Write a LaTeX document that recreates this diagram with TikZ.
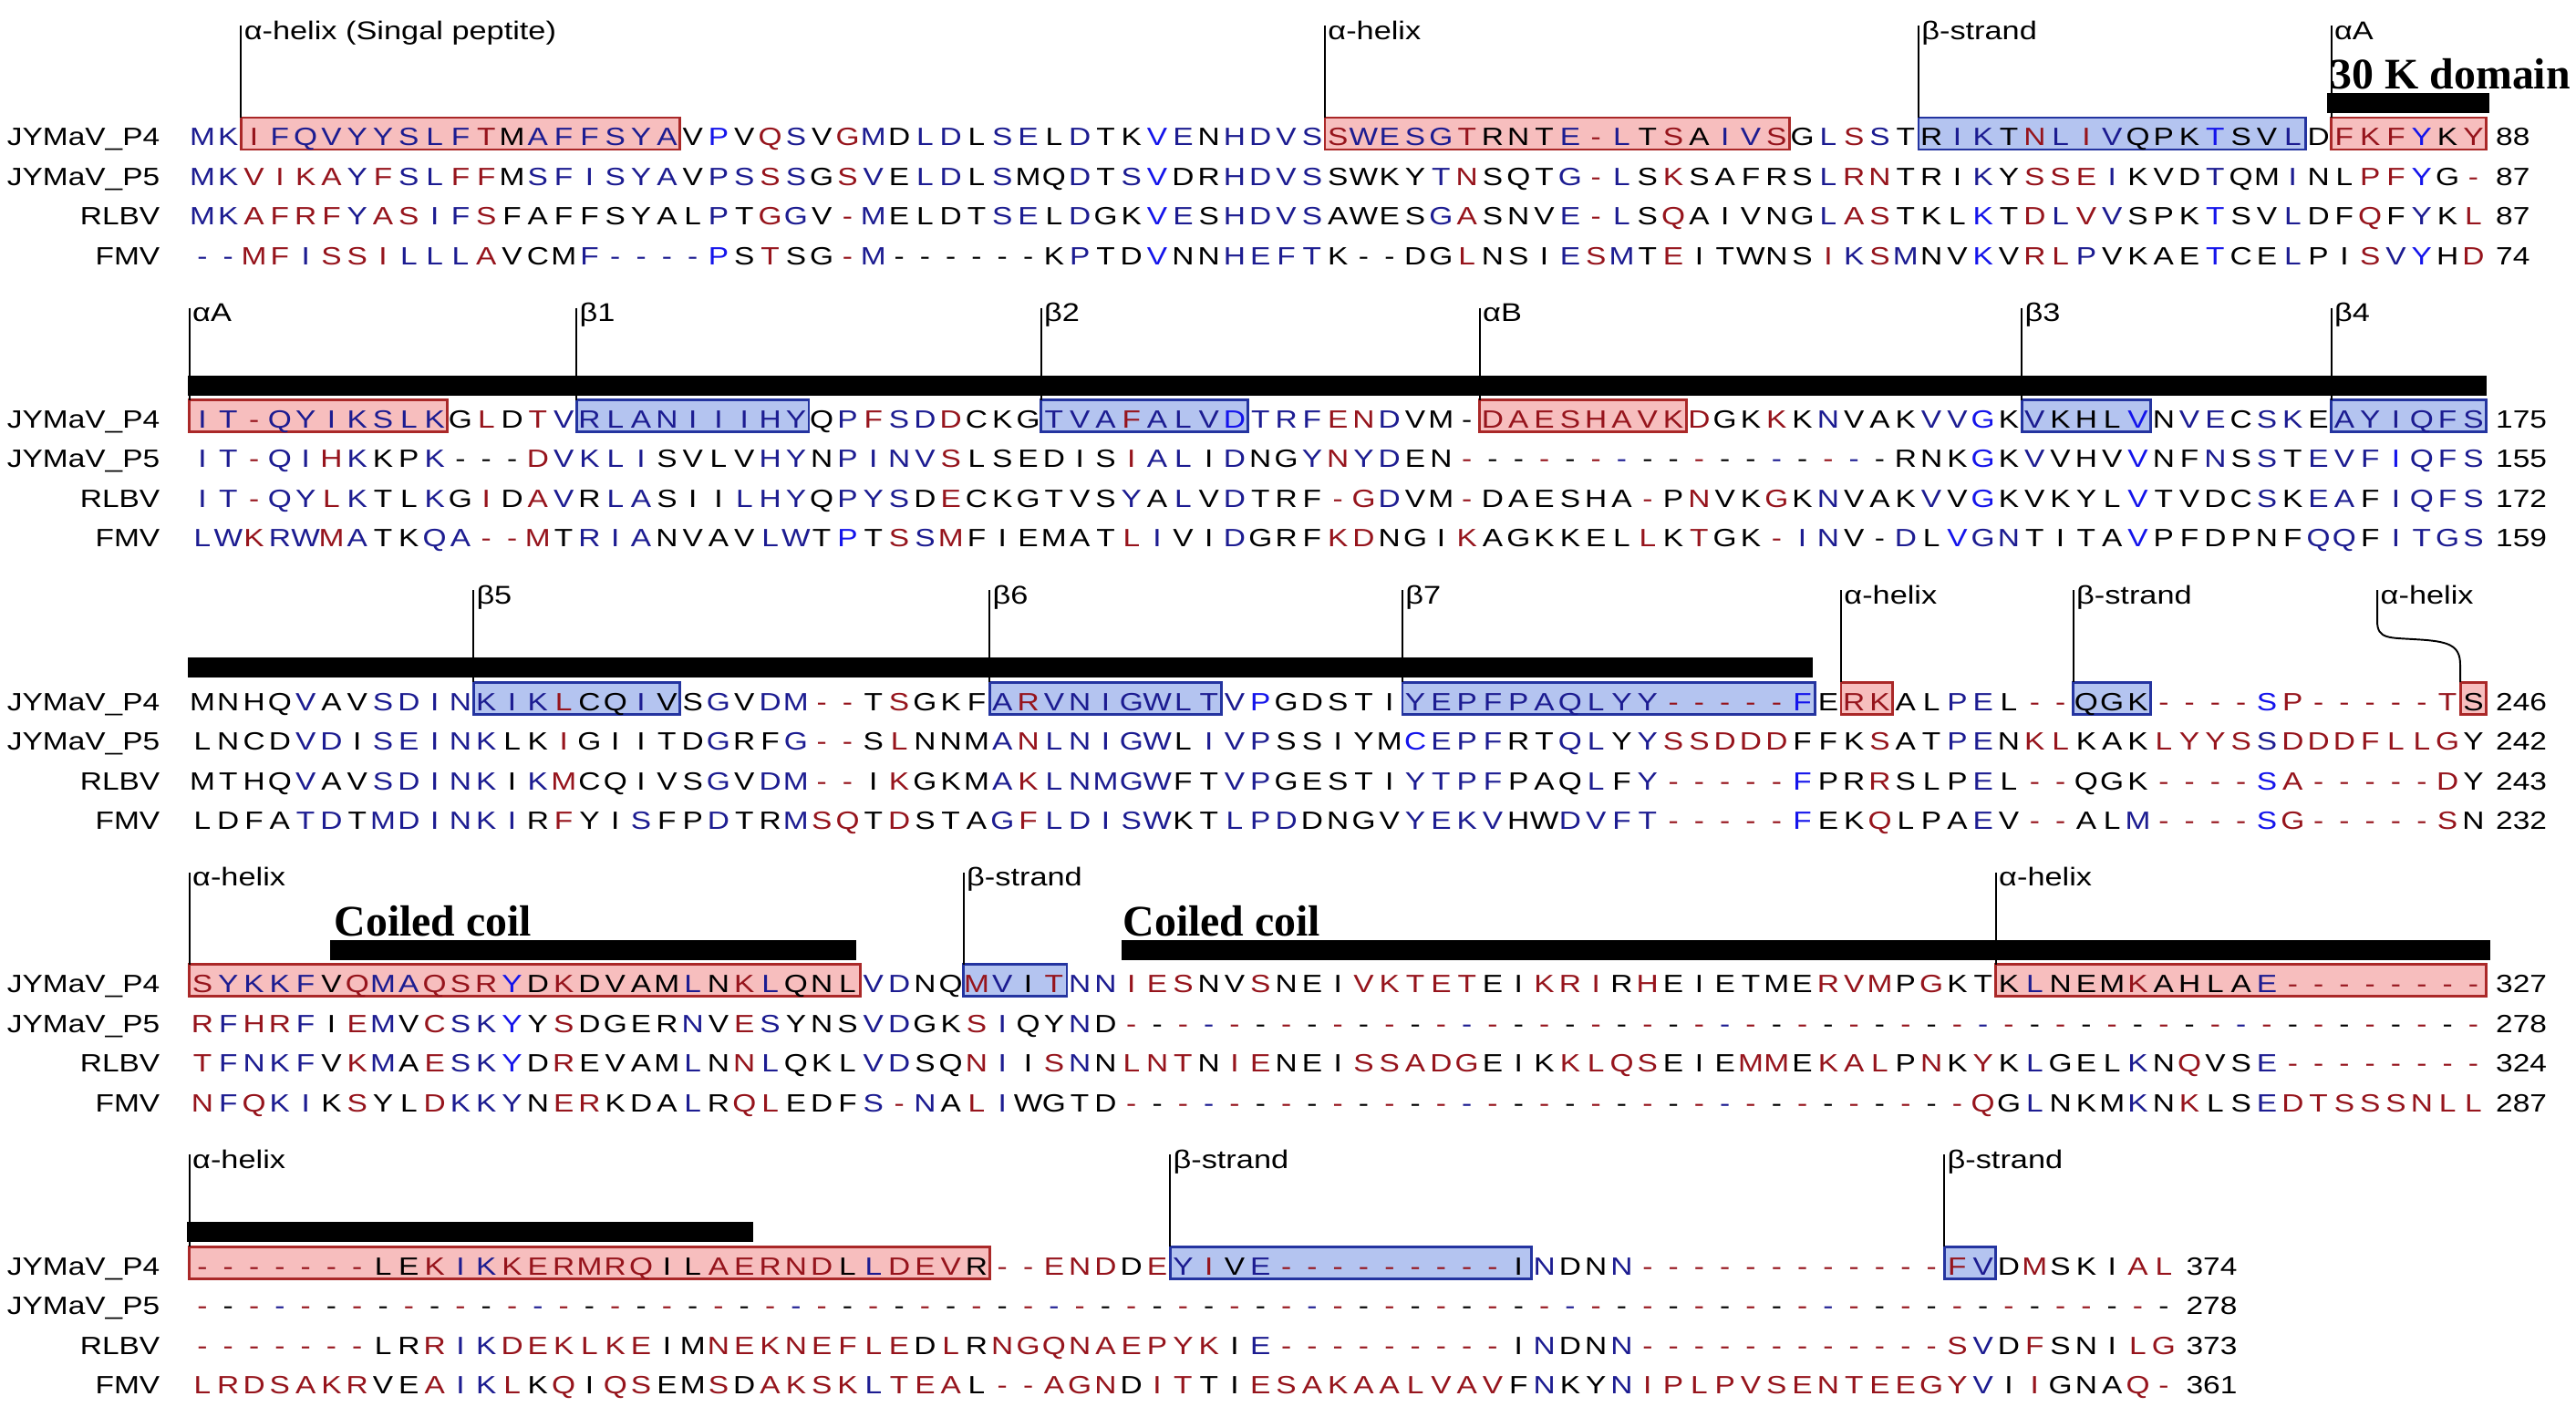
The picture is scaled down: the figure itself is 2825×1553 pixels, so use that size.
\documentclass[tikz,border=0pt]{standalone}
\usepackage{fontspec}
\setmainfont{Liberation Sans}
\newfontfamily\seqfont{Liberation Sans}[FakeStretch=1.22]
\newfontfamily\domfont{Liberation Serif}
\definecolor{sqred}{RGB}{150,20,28}
\definecolor{sqblue}{RGB}{28,28,145}
\definecolor{sqbright}{RGB}{20,20,235}
\definecolor{hxfill}{RGB}{247,190,190}
\definecolor{hxdraw}{RGB}{170,40,40}
\definecolor{stfill}{RGB}{180,196,240}
\definecolor{stdraw}{RGB}{36,52,160}
\tikzset{
  res/.style={font=\seqfont\fontsize{7.8}{9}\selectfont, inner sep=0pt, anchor=base},
  lab/.style={font=\seqfont\fontsize{7.8}{9}\selectfont, inner sep=0pt, anchor=base east},
  num/.style={font=\seqfont\fontsize{7.8}{9}\selectfont, inner sep=0pt, anchor=base west},
  ann/.style={font=\seqfont\fontsize{8}{9.5}\selectfont, inner sep=0pt, anchor=base west},
  dom/.style={font=\domfont\bfseries\fontsize{13.6}{16}\selectfont, inner sep=0pt, anchor=base west},
  tick/.style={line width=0.55pt, draw=black},
  helixbox/.style={fill=hxfill, draw=hxdraw, line width=0.8pt},
  strandbox/.style={fill=stfill, draw=stdraw, line width=0.8pt},
  domainbar/.style={fill=black},
}
% dash runs: \dT = 10 gaps, \dF = 3 gaps, \dO = 1 gap
\def\dT{r--r-b-r--r--r--}
\def\dF{r--r-}
\def\dO{-}
\ExplSyntaxOn
\tl_new:N \l__sq_color_tl
\tl_new:N \l__sq_seq_tl
\int_new:N \l__sq_col_int
\cs_new_protected:Npn \__sq_put:nnnn #1#2#3#4 { \node[#1]~(#2)~at~(#3)~{#4}; }
\cs_generate_variant:Nn \__sq_put:nnnn { xxxn , nxxn }
\NewDocumentCommand \seqrow { m m m m m }
  {
    \__sq_put:nxxn {lab} {#1-name} { 176 , \fp_eval:n { #2 + 9.8 } } {#3}
    \tl_set:Nx \l__sq_seq_tl {#4}
    \int_zero:N \l__sq_col_int
    \tl_set:Nn \l__sq_color_tl {black}
    \tl_map_inline:Nn \l__sq_seq_tl
      {
        \str_case:nnF {##1}
          {
            {r} { \tl_set:Nn \l__sq_color_tl {sqred} }
            {b} { \tl_set:Nn \l__sq_color_tl {sqblue} }
            {c} { \tl_set:Nn \l__sq_color_tl {sqbright} }
          }
          {
            \int_incr:N \l__sq_col_int
            \__sq_put:xxxn { res , text = \l__sq_color_tl }
              { #1 - \int_use:N \l__sq_col_int }
              { \fp_eval:n { 222 + 28.3 * ( \int_use:N \l__sq_col_int - 1 ) } , \fp_eval:n { #2 + 9.8 } }
              {##1}
            \tl_set:Nn \l__sq_color_tl {black}
          }
      }
    \__sq_put:nxxn {num} {#1-num}
      { \fp_eval:n { 222 + 28.3 * ( \int_use:N \l__sq_col_int - 1 ) + 24 } , \fp_eval:n { #2 + 9.8 } }
      {#5}
  }
\ExplSyntaxOff
\newcommand\sqbox[4]{% style, yP4, from col, to col
  \path[#1] ({222+28.3*(#3-1)-14.15},{#2-21}) rectangle ({222+28.3*(#4-1)+14.15},{#2+14});}
\newcommand\annot[4]{% name, yP4, col, text
  \coordinate (#1-top) at ({222+28.3*(#3-1)-14.15},{#2-122});
  \coordinate (#1-foot) at ({222+28.3*(#3-1)-14.15},{#2-21});
  \draw[tick] (#1-top) -- (#1-foot);
  \node[ann] (#1) at ({222+28.3*(#3-1)-11.5},{#2-107}) {#4};}
\newcommand\dombar[3]{\fill[domainbar] (#2,{#1-48}) rectangle (#3,{#1-26});}
\begin{document}
\begin{tikzpicture}[x=0.01cm,y=-0.01cm]
\useasboundingbox (0,0) rectangle (2825,1553);
\fill[white] (0,0) rectangle (2825,1553);
% ---------------- block 1 ----------------
\def\Y{150}
\sqbox{helixbox}{\Y}{3}{19}
\sqbox{helixbox}{\Y}{45}{62}
\sqbox{strandbox}{\Y}{68}{82}
\sqbox{helixbox}{\Y}{84}{89}
\annot{a11}{\Y}{3}{α-helix (Singal peptite)}
\annot{a12}{\Y}{45}{α-helix}
\annot{a13}{\Y}{68}{β-strand}
\annot{a14}{\Y}{84}{αA}
\dombar{\Y}{2552}{2730}
\node[dom] (dom30k) at (2555,{\Y-53}) {30 K domain};
\seqrow{b1p4}{150}{JYMaV\_P4}{bMbKrIbFbQbVbYbYbSbLbFrTMbAbFbFbSbYbAVcPVrQbSVrGbMDbLbDLbSbELbDTKcVbENbHbDbVbSrSbWbEbSbGrTRNTbEr-bLTrSAbIbVrSGbLrSbSTRbIbKTrNbLrIbVQPKcTSVbLDrFrKrFcYKrY}{88}
\seqrow{b1p5}{193.5}{JYMaV\_P5}{bMbKrVrIrKrAbYrFbSbLrFrFMbSbFbIbSbYbAVbPbSrSbSGrSbVEbLbDLbSMQbDTbScVDRbHbDbVbSSWKYbTrNSQTbGr-bLSrKSAFRSbLrRrNTRIbKYrSrSrEbIKVDbTQMbINLrPrFcYGr-}{87}
\seqrow{b1rl}{237}{RLBV}{bMbKrArFrRrFbYrArSbIbFrSFAFFSYALbPTrGbGVr-bMELDTbSbELbDGKcVbESbHbDbVbSAWESbGrASNVbEr-bLSrQAIVNGbLrArSTKLcKTrDbLrVbVSPKcTSVbLDFrQFbYKrL}{87}
\seqrow{b1fm}{280.5}{FMV}{b-b-rMrFbIrSrSrIbLbLbLrAVCMbFb-b-b-b-cPSrTSGr-bM------KbPTDcVNNbHbEbFbTK--DGrLNSIbErSbMTrEITWNSrIbKrSbMNVcKVrRrLbPVKAEcTCEbLPIrSbVcYHrD}{74}
% ---------------- block 2 ----------------
\def\Y{459.6}
\sqbox{helixbox}{\Y}{1}{10}
\sqbox{strandbox}{\Y}{16}{24}
\sqbox{strandbox}{\Y}{34}{41}
\sqbox{helixbox}{\Y}{51}{58}
\sqbox{strandbox}{\Y}{72}{76}
\sqbox{strandbox}{\Y}{84}{89}
\dombar{\Y}{206}{2727}
\annot{a21}{\Y}{1}{αA}
\annot{a22}{\Y}{16}{β1}
\annot{a23}{\Y}{34}{β2}
\annot{a24}{\Y}{51}{αB}
\annot{a25}{\Y}{72}{β3}
\annot{a26}{\Y}{84}{β4}
\seqrow{b2p4}{459.6}{JYMaV\_P4}{bIbTr-bQbYbIbKbSbLbKGrLDrTbVbRbLbAbNbIbIbIbHbYQbPrFbSbDrDCKGbTbVbArFbAbLbVcDbTbRbFrErNbDVM-rDrArErSrHrArVrKrDGKrKKbNVAKbVbVcGKbVKHLcVNbVbECbSbKEbAbYbIbQbFbS}{175}
\seqrow{b2p5}{503.1}{JYMaV\_P5}{bIbTr-bQbIrHbKKPbK---rDbVbKbLbISVLVbHbYNbPbIbNbVrSLSEDISrIbAbLIbDNGbYrNbYbDENr---r--r-b---r---b--r-b--RNKcGKbVVHVcVNFbNSbSTbEbVbFcIbQbFbS}{155}
\seqrow{b2rl}{546.6}{RLBV}{bIbTr-bQbYrLbKTLbKGrIDrAbVRbLbASIIbLbHbYQbPbYbSDrECKGTVSbYAbLVbDTRFr-rGbDVMr-DAESHAr-PrNVKrGKbNVAKbVVcGKVKYLcVTVDCbSKbEbAFbIbQbFbS}{172}
\seqrow{b2fm}{590.1}{FMV}{bLbWrKbRbWrMbATKbQbAr-r-rMTbRbIbANVAVbLbWTcPTrSbSrMFIEMATrLbIVIbDGRFrKrDNGIrKAGKKELrLKrTGKr-bIbNV-bDLcVbGbNTITAcVPFDPNFbQbQFbIbTbGbS}{159}
% ---------------- block 3 ----------------
\def\Y{769.2}
\sqbox{strandbox}{\Y}{12}{19}
\sqbox{strandbox}{\Y}{32}{40}
\sqbox{strandbox}{\Y}{48}{63}
\sqbox{helixbox}{\Y}{65}{66}
\sqbox{strandbox}{\Y}{74}{76}
\sqbox{helixbox}{\Y}{89}{89}
\dombar{\Y}{206}{1988}
\annot{a31}{\Y}{12}{β5}
\annot{a32}{\Y}{32}{β6}
\annot{a33}{\Y}{48}{β7}
\annot{a34}{\Y}{65}{α-helix}
\annot{a35}{\Y}{74}{β-strand}
\coordinate (a36-top) at (2607,{\Y-122});
\coordinate (a36-foot) at (2698,{\Y-21});
\node[ann] (a36) at (2610,{\Y-107}) {α-helix};
\draw[tick] (a36-top) -- (2607,{\Y-88}) .. controls (2607,{\Y-68}) and (2620,{\Y-70}) .. (2650,{\Y-68}) .. controls (2685,{\Y-66}) and (2698,{\Y-62}) .. (2698,{\Y-40}) -- (a36-foot);
\seqrow{b3p4}{769.2}{JYMaV\_P4}{MNHQbVAVbSbDbIbNbKbIbKrLCQbIVSbGVbDbMr-r-TrSGKFbArRbVbNbIbGbWbLbTbVcPGDSTIbYbEbPbFbPbAbQbLbYbYr-r-r-r-r-cFErRrKALbPbELr-r-QGKr-r-r-r-cSrPr-r-r-r-r-rTS}{246}
\seqrow{b3p5}{812.7}{JYMaV\_P5}{LNCDbVbDIbSbEbIbNbKLKrIGIITDbGRFbGr-r-SrLNNMbArNbLbNbIbGbWLbIbVbPSSIYMcCbEbPbFRTbQbLYbYrSrSrDrDrDFFKrSATbPbENrKrLKAKrLrYrYrSbSrDrDrDrFrLrLrGY}{242}
\seqrow{b3rl}{856.2}{RLBV}{MTHQbVAVbSbDbIbNbKIbKrMCQIVSbGVbDbMr-r-IrKGKMbArKbLbNbMbGbWFTbVbPGESTIbYbTbPbFPAQbLFbYr-r-r-r-r-cFPRrRSLPbELr-r-QGKr-r-r-r-cSrAr-r-r-r-r-rDY}{243}
\seqrow{b3fm}{899.7}{FMV}{LDFAbTbDTbMbDbIbNbKbIRrFYIbSFPbDTRbMrSrQTrDSTAbGrFbLbDbIbSbWKTbLbPbDDNGVbYbEbKbVHWbDbVbFbTr-r-r-r-r-cFEKrQLPAbEVr-r-ALbMr-r-r-r-cSrGr-r-r-r-r-rSN}{232}
% ---------------- block 4 ----------------
\def\Y{1078.8}
\sqbox{helixbox}{\Y}{1}{26}
\sqbox{strandbox}{\Y}{31}{34}
\sqbox{helixbox}{\Y}{71}{89}
\dombar{\Y}{362}{939}
\dombar{\Y}{1230}{2731}
\node[dom] (cc1) at (366,{\Y-52}) {Coiled coil};
\node[dom] (cc2) at (1231,{\Y-52}) {Coiled coil};
\annot{a41}{\Y}{1}{α-helix}
\annot{a42}{\Y}{31}{β-strand}
\annot{a43}{\Y}{71}{α-helix}
\seqrow{b4p4}{1078.8}{JYMaV\_P4}{rSbYbKbKbFVrQbMbArQrSrRcYDrKDVAMbLNrKbLQNLbVbDNQrMbVIrTbNbNrIrErSNVrSNEIrVrKrTrErTEIrKrRrIRrHEIETMErRrVrMPrGKTKbLNEMrKAHLAbEr-r-r-r-r-r-r-r-}{327}
\seqrow{b4p5}{1122.3}{JYMaV\_P5}{rRbFrHrRbFIrEbMVrCbSbKcYYrSDGERbNVrEbSYNSbVbDGKrSbIQYbND\dT\dT\dT\dT\dT\dF}{278}
\seqrow{b4rl}{1165.8}{RLBV}{rTbFbNbKbFVrKbMArEbSbKcYDrREVAMbLNrNbLQKLbVbDSQrNbIIrSbNNrLrNrTNrIrENEIrSrSrArDrGEIKrKrLrQrSEIErMrMErKrArLPrNKrYKbLGELbKNrQVSbEr-r-r-r-r-r-r-r-}{324}
\seqrow{b4fm}{1209.3}{FMV}{rNbFrQbKbIKrSYLrDbKbKbYNrErRKDAbLRrQrLEDFbSr-bNArLbIWGTD\dT\dT\dT\dF rQGbLNKMbKNrKLSbErDrTrSrSrSrNrLrL}{287}
% ---------------- block 5 ----------------
\def\Y{1388.4}
\sqbox{helixbox}{\Y}{1}{31}
\sqbox{strandbox}{\Y}{39}{52}
\sqbox{strandbox}{\Y}{69}{70}
\dombar{\Y}{205}{826}
\annot{a51}{\Y}{1}{α-helix}
\annot{a52}{\Y}{39}{β-strand}
\annot{a53}{\Y}{69}{β-strand}
\seqrow{b5p4}{1388.4}{JYMaV\_P4}{r-r-r-r-r-r-r-LErKbIbKrKrErRrMrRrQILrArErRrNrDLbLrDrErVRr-r-rErNrDDrEbYrIVbEr-r-r-r-r-r-r-r-r-IbNDNbNr-r-r-r-r-r-r-r-r-r-r-r-rFbVDrMSKIrArL}{374}
\seqrow{b5p5}{1431.9}{JYMaV\_P5}{\dT\dT\dT\dT\dT\dT\dT\dF\dF\dO}{278}
\seqrow{b5rl}{1475.4}{RLBV}{r-r-r-r-r-r-r-LRrRbIbKrDrErKrLrKrEIMrNrErKrNrErFrLrEDrLRrNrGrQrNrArErPrYrKIbEr-r-r-r-r-r-r-r-r-IbNDNbNr-r-r-r-r-r-r-r-r-r-r-r-rSbVDrFSNIrLrG}{373}
\seqrow{b5fm}{1518.9}{FMV}{rLrRrDrSrArKrRVErAbIbKrLKrQIrQrSEMrSDrArKrSrKbLrTrErALr-r-rArGrNDrIrTTIrErSrArKrArArLrVrArVFbNKYbNrIrPrLrPrVrSrErNrTrErErGrYbVIrIGNArQr-}{361}
\end{tikzpicture}
\end{document}
